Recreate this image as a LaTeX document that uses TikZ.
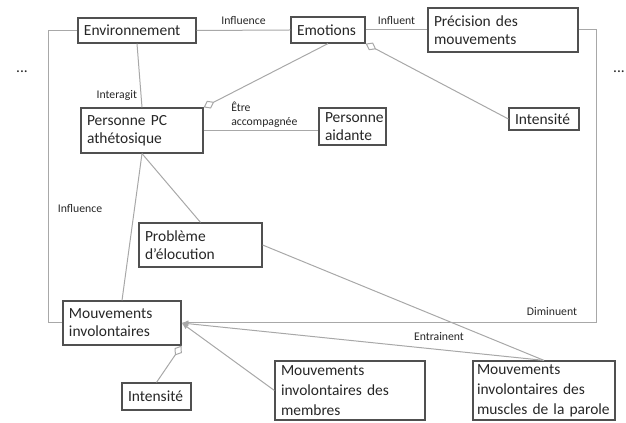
\documentclass[tikz,border=0pt]{standalone}
\usepackage{fontspec}
\setmainfont{Carlito}[WordSpace=0.8]
\usetikzlibrary{arrows.meta}
\definecolor{bordure}{RGB}{80,80,80}
\definecolor{liengris}{RGB}{168,168,168}
\definecolor{texte}{RGB}{38,38,38}

\begin{document}
\begin{tikzpicture}[x=0.75pt,y=0.75pt,yscale=-1,xscale=1,
  boite/.style={draw=bordure, line width=0.9pt, text=texte, align=left, inner xsep=4.5pt, inner ysep=0pt, font=\fontsize{11.6}{13.4}\selectfont},
  haute/.style={font=\fontsize{11.6}{15}\selectfont},
  lien/.style={draw=liengris, line width=0.75pt},
  etiq/.style={text=texte, inner sep=0.75pt, font=\fontsize{8.8}{11}\selectfont},
  agreg/.style={-{Diamond[open,length=9pt,width=6.5pt]}},
  fleche/.style={-{Latex[length=5pt,width=4pt]}}]
\useasboundingbox (0,0) rectangle (626,423);

%Shape: Rectangle [Environnement]
\node[boite, text width=79.5pt, minimum height=18.75pt] (env) at (137,30.5) {Environnement};
%Shape: Rectangle [Emotions]
\node[boite, text width=46.5pt, minimum height=19.5pt] (emo) at (328,30) {Emotions};
%Shape: Rectangle [Precision]
\node[boite, text width=103.5pt, minimum height=33pt] (prec) at (503,30) {Précision des\\mouvements};
%Shape: Rectangle [Intensite emotions]
\node[boite, text width=43.5pt, minimum height=16.5pt] (intE) at (544,119) {Intensité};
%Shape: Rectangle [Personne PC]
\node[boite, text width=82.5pt, minimum height=33.75pt] (pers) at (142,130.5) {Personne PC\\athétosique};
%Shape: Rectangle [Personne aidante]
\node[boite, text width=41.25pt, minimum height=27.75pt] (aid) at (352.5,126.5) {Personne\\aidante};
%Shape: Rectangle [Probleme]
\node[boite, text width=83.25pt, minimum height=33pt] (prob) at (200.5,245) {Problème\\d’élocution};
%Shape: Rectangle [Mouvements involontaires]
\node[boite, text width=79.5pt, minimum height=33pt] (mouv) at (122,323) {Mouvements\\involontaires};
%Shape: Rectangle [Intensite mouvements]
\node[boite, text width=42.75pt, minimum height=20.25pt] (intM) at (156.5,396.5) {Intensité};
%Shape: Rectangle [Membres]
\node[boite, haute, text width=103.5pt, minimum height=44.25pt] (memb) at (350,390.5) {Mouvements\\\mbox{involontaires des}\\membres};
%Shape: Rectangle [Muscles]
\node[boite, haute, inner xsep=3pt, text width=100.5pt, minimum height=44.25pt] (musc) at (544,390.5) {Mouvements\\\mbox{involontaires des}\\\mbox{muscles de la parole}};

%Straight Lines
\draw[lien] (env.east) -- (emo.west) node[etiq, midway, above=3pt] (lblInf) {Influence};
\draw[lien] (emo.east) -- (prec.west) node[etiq, midway, above=3pt] (lblInfl) {Influent};
\draw[lien] (env.south) -- (pers.north) node[etiq, pos=0.82, left=2pt] (lblInter) {Interagit};
\draw[lien, agreg] (emo.south) -- (pers.north east);
\draw[lien, agreg] (intE.west) -- (emo.south east);
\draw[lien] (pers.east) -- (pers.east -| aid.west);
\draw[lien] (pers.south) -- (prob.north);
\draw[lien] (pers.south) -- (mouv.north);
\draw[lien] (prob.east) -- (musc.north);
\draw[lien, agreg] (intM.north) -- (mouv.south east);
%Frame Lines
\draw[lien] (env.west) -- ++(-29,0) |- (mouv.west);
\draw[lien, fleche] (prec.east) -- ++(18,0) |- (mouv.east);
\draw[lien, fleche] (memb.west) -- (mouv.east);
\draw[lien, fleche] (musc.north) -- (mouv.east);

% Text Node
\node[etiq, anchor=south west, align=left] (lblAcc) at (230,129) {Être\\accompagnée};
% Text Node
\node[etiq] (lblInfG) at (80,209) {Influence};
% Text Node
\node[etiq] (lblDim) at (552,312) {Diminuent};
% Text Node
\node[etiq] (lblEnt) at (439,337) {Entrainent};
% Text Node
\node[text=texte, font=\fontsize{11.6}{13}\selectfont] (ptsG) at (22,72) {...};
\node[text=texte, font=\fontsize{11.6}{13}\selectfont] (ptsD) at (619,72) {...};

\end{tikzpicture}
\end{document}
